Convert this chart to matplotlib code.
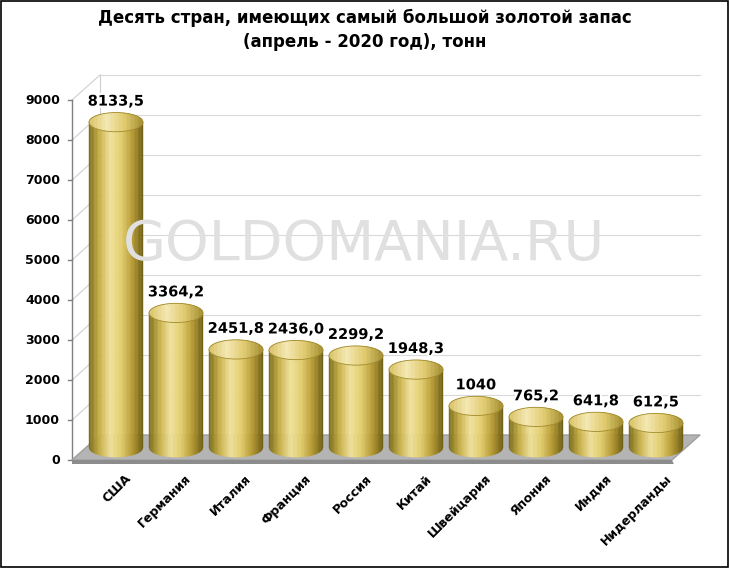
import matplotlib
matplotlib.use("Agg")
import matplotlib.pyplot as plt
import numpy as np
from matplotlib.patches import Polygon, Rectangle, Ellipse
from matplotlib.colors import LinearSegmentedColormap
import matplotlib.patheffects as pe

countries = ["США", "Германия", "Италия", "Франция", "Россия", "Китай",
             "Швейцария", "Япония", "Индия", "Нидерланды"]
values = [8133.5, 3364.2, 2451.8, 2436.0, 2299.2, 1948.3, 1040, 765.2, 641.8, 612.5]
labels = ["8133,5", "3364,2", "2451,8", "2436,0", "2299,2", "1948,3", "1040", "765,2", "641,8", "612,5"]
yticks = list(range(0, 10000, 1000))

plt.rcParams['font.family'] = ['DejaVu Sans']
fig = plt.figure(figsize=(7.29, 5.68), dpi=100)
W, H = 729, 568
ax = fig.add_axes([72 / W, (H - 460) / H, 600 / W, 360 / H])
ax.set_xlim(-0.5, 9.5)
ax.set_ylim(0, 9000)
ax.axis('off')

ppx = 60.0
ppy = 360 / 9000
dx = 28 / ppx
dy = 25 / ppy

for t in yticks:
    ax.plot([-0.5 + dx, 9.5 + dx], [t + dy, t + dy], color='#d9d9d9', lw=0.8, clip_on=False, zorder=1)
    ax.plot([-0.5, -0.5 + dx], [t, t + dy], color='#cfcfcf', lw=0.8, clip_on=False, zorder=1)
ax.plot([-0.5 + dx, -0.5 + dx], [dy, 9000 + dy], color='#cfcfcf', lw=0.8, clip_on=False, zorder=1)
ax.plot([-0.5, -0.5], [0, 9000], color='#808080', lw=1, clip_on=False, zorder=2)
for t in yticks:
    ax.plot([-0.5 - 0.07, -0.5], [t, t], color='#808080', lw=1, clip_on=False)
    ax.text(-0.5 - 0.2, t, str(t), ha='right', va='center', fontsize=9, fontweight='bold')

ax.add_patch(Polygon([(-0.5, 0), (-0.5 + dx, dy), (9.5 + dx, dy), (9.5, 0)],
                     closed=True, facecolor='#b4b4b4', edgecolor='#a0a0a0', clip_on=False, zorder=2))
ax.add_patch(Polygon([(-0.5, 0), (9.5, 0), (9.5 + 0.03, -100), (-0.5, -100)],
                     closed=True, facecolor='#8c8c8c', edgecolor='none', clip_on=False, zorder=2))

fig.text(0.5, (H - 245) / H, "GOLDOMANIA.RU", ha='center', va='center', fontsize=40,
         color='#e0e0e0', zorder=0)

cmap = LinearSegmentedColormap.from_list('gold', ['#7a6a18', '#c8b048', '#f0e29c', '#e2cd6c', '#b89a30', '#6e5e14'])
cmap_top = LinearSegmentedColormap.from_list('goldt', ['#d8c060', '#f4e8b0', '#e0c868', '#a08a2a'])
w = 0.9
eh = 480
N = 40
for i, v in enumerate(values):
    c = i + dx / 2
    base = dy / 2
    top = v + dy / 2
    xs = np.linspace(c - w / 2, c + w / 2, N + 1)
    def half(x):
        u = np.clip((x - c) / (w / 2), -1, 1)
        return (eh / 2) * np.sqrt(1 - u ** 2)
    for j in range(N):
        xa, xb = xs[j], xs[j + 1]
        xx = np.linspace(xa, xb, 4)
        col = cmap((j + 0.5) / N)
        body = list(zip(xx, base - half(xx))) + list(zip(xx[::-1], top - half(xx[::-1])))
        ax.add_patch(Polygon(body, closed=True, facecolor=col, edgecolor=col, lw=0.3,
                             clip_on=False, zorder=5))
        colt = cmap_top((j + 0.5) / N)
        tp = list(zip(xx, top - half(xx))) + list(zip(xx[::-1], top + half(xx[::-1])))
        ax.add_patch(Polygon(tp, closed=True, facecolor=colt, edgecolor=colt, lw=0.3,
                             clip_on=False, zorder=6))
    ax.add_patch(Ellipse((c, top), w, eh, facecolor='none', edgecolor='#a08a2c', lw=0.6,
                         zorder=7, clip_on=False))
    ax.text(c, top + eh / 2 + 100, labels[i], ha='center', va='bottom', fontsize=10.5,
            fontweight='bold', zorder=8,
            path_effects=[pe.withStroke(linewidth=3, foreground='white')])
    ax.text(c + 0.15, -300, countries[i], ha='right', va='top', rotation=45,
            rotation_mode='anchor', fontsize=9, fontweight='bold')

fig.text(0.5, (H - 30) / H, "Десять стран, имеющих самый большой золотой запас\n(апрель - 2020 год), тонн",
         ha='center', va='center', fontsize=12, fontweight='bold', linespacing=1.4)
fig.patches.append(Rectangle((0.001, 0.001), 0.997, 0.997, transform=fig.transFigure,
                             fill=False, edgecolor='black', lw=1.2))
fig.savefig("out.png", dpi=100)
